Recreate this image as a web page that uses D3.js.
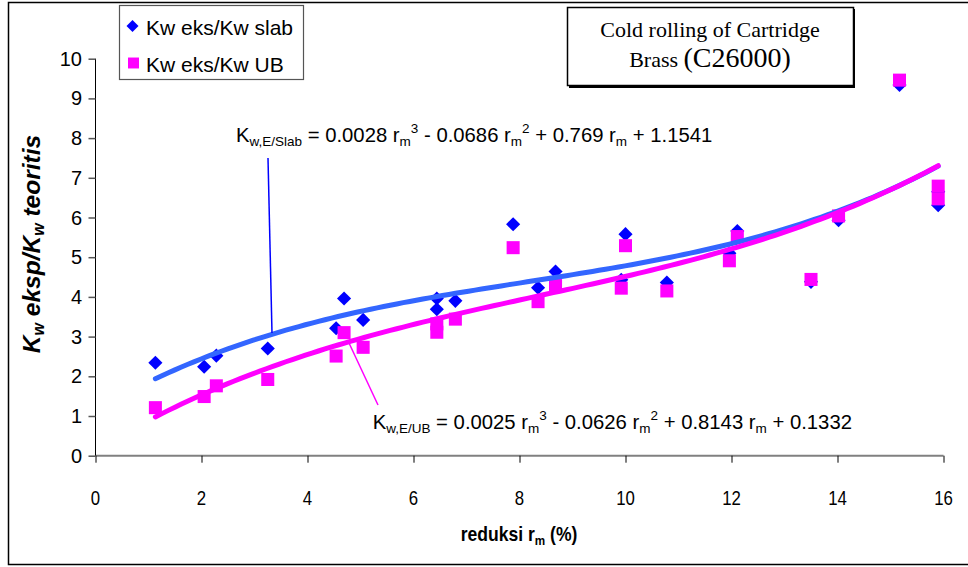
<!DOCTYPE html>
<html><head><meta charset="utf-8">
<script src="https://cdn.jsdelivr.net/npm/d3@7"></script>
<style>body{margin:0;background:#fff} svg{display:block}</style>
</head><body><svg id="c" width="968" height="567"></svg>
<script>
const reduction = [1.13,2.05,2.28,3.25,4.54,4.69,5.05,6.44,6.44,6.79,7.88,8.35,8.68,9.92,10.0,10.78,11.96,12.11,13.5,14.02,15.17,15.9,15.9];
const kwSlab    = [2.34,2.24,2.52,2.70,3.21,3.96,3.42,3.96,3.69,3.90,5.83,4.23,4.64,4.43,5.58,4.36,5.10,5.66,4.38,5.93,9.34,6.65,6.31];
const kwUB      = [1.21,1.49,1.76,1.92,2.51,3.10,2.73,3.32,3.11,3.44,5.24,3.88,4.30,4.22,5.29,4.15,4.91,5.52,4.44,6.04,9.46,6.79,6.47];
const slabCoef = [0.0028,-0.0686,0.769,1.1541];
const ubCoef   = [0.0025,-0.0626,0.8143,0.1332];
const xTicks = [0,2,4,6,8,10,12,14,16];
const yTicks = [0,1,2,3,4,5,6,7,8,9,10];
const seriesNames = ["Kw eks/Kw slab","Kw eks/Kw UB"];

const svg = d3.select("#c");
const F = "'Liberation Sans', Arial, sans-serif";
const x = d3.scaleLinear().domain([0,16]).range([95.5,943.5]);
const y = d3.scaleLinear().domain([0,10]).range([455.7,58.7]);

// outer frame
svg.append("rect").attr("x",8.5).attr("y",2.5).attr("width",975).attr("height",562)
  .attr("fill","none").attr("stroke","#000").attr("stroke-width",1.5);

// axes
const xAxis = svg.append("g").attr("transform",`translate(0,${y(0)})`)
  .call(d3.axisBottom(x).tickValues(xTicks).tickSize(7).tickFormat(""));
xAxis.select(".domain").attr("stroke","#808080").attr("stroke-width",2).attr("d",`M${x(0)},0H${x(16)}`);
xAxis.selectAll(".tick line").attr("stroke","#000").attr("stroke-width",1);
const yAxis = svg.append("g").attr("transform",`translate(${x(0)},0)`)
  .call(d3.axisLeft(y).tickValues(yTicks).tickSize(7).tickFormat(""));
yAxis.select(".domain").attr("stroke","#000").attr("stroke-width",1).attr("d",`M0,${y(0)}V${y(10)}`);
yAxis.selectAll(".tick line").attr("stroke","#555").attr("stroke-width",1.5);

// tick labels
svg.append("g").selectAll("text").data(xTicks).join("text")
  .attr("transform",d=>`translate(${x(d)},505) scale(0.8,1)`)
  .attr("text-anchor","middle").attr("font-family",F).attr("font-size",21).text(d=>d);
svg.append("g").selectAll("text").data(yTicks).join("text")
  .attr("x",82).attr("y",d=>y(d)+7).attr("text-anchor","end")
  .attr("font-family",F).attr("font-size",20).text(d=>d);

// axis titles
const xt = svg.append("text").attr("transform","translate(519,541) scale(0.9,1)")
  .attr("text-anchor","middle").attr("font-family",F).attr("font-size",19.5).attr("font-weight","bold");
xt.append("tspan").text("reduksi r");
xt.append("tspan").attr("font-size",13).attr("dy",4).text("m");
xt.append("tspan").attr("dy",-4).text(" (%)");

const yt = svg.append("text").attr("transform","translate(40,244) rotate(-90)")
  .attr("text-anchor","middle").attr("font-family",F).attr("font-size",24.5)
  .attr("font-weight","bold").attr("font-style","italic");
yt.append("tspan").text("K");
yt.append("tspan").attr("font-size",16).attr("dy",4).text("w");
yt.append("tspan").attr("dy",-4).text(" eksp/K");
yt.append("tspan").attr("font-size",16).attr("dy",4).text("w");
yt.append("tspan").attr("dy",-4).text(" teoritis");

// markers
const diamond = d3.symbol().type(d3.symbolSquare).size(100);
const square = d3.symbol().type(d3.symbolSquare).size(170);
const pts = reduction.map((r,i)=>({r, s:kwSlab[i], u:kwUB[i]}));
svg.append("g").selectAll("path").data(pts).join("path")
  .attr("d",diamond).attr("fill","#0000ff")
  .attr("transform",d=>`translate(${x(d.r)},${y(d.s)}) rotate(45)`);
svg.append("g").selectAll("path").data(pts).join("path")
  .attr("d",square).attr("fill","#ff00ff")
  .attr("transform",d=>`translate(${x(d.r)},${y(d.u)})`);

// trendlines
const poly = (c,t)=>((c[0]*t + c[1])*t + c[2])*t + c[3];
const xmin = d3.min(reduction), xmax = d3.max(reduction);
const xs = d3.range(xmin, xmax+1e-9, (xmax-xmin)/120);
const line = d3.line().x(d=>x(d[0])).y(d=>y(d[1]));
svg.append("path").attr("d",line(xs.map(t=>[t,poly(slabCoef,t)])))
  .attr("fill","none").attr("stroke","#3366ff").attr("stroke-width",5).attr("stroke-linecap","round");
svg.append("path").attr("d",line(xs.map(t=>[t,poly(ubCoef,t)])))
  .attr("fill","none").attr("stroke","#ff00ff").attr("stroke-width",5).attr("stroke-linecap","round");

// equation leaders
svg.append("line").attr("x1",268).attr("y1",158).attr("x2",272).attr("y2",333)
  .attr("stroke","#0000ff").attr("stroke-width",1.5);
svg.append("line").attr("x1",349).attr("y1",343).attr("x2",378).attr("y2",405)
  .attr("stroke","#ff00ff").attr("stroke-width",1.5);

function equation(xp, yp, sub, c){
  const t = svg.append("text").attr("x",xp).attr("y",yp).attr("font-family",F).attr("font-size",20.3);
  const s = 13.5;
  t.append("tspan").text("K");
  t.append("tspan").attr("font-size",s).attr("dy",4).text(sub);
  t.append("tspan").attr("dy",-4).text(` = ${c[0].toFixed(4)} r`);
  t.append("tspan").attr("font-size",s).attr("dy",4).text("m");
  t.append("tspan").attr("font-size",s).attr("dy",-13).text("3");
  t.append("tspan").attr("dy",9).text(` - ${Math.abs(c[1]).toFixed(4)} r`);
  t.append("tspan").attr("font-size",s).attr("dy",4).text("m");
  t.append("tspan").attr("font-size",s).attr("dy",-13).text("2");
  t.append("tspan").attr("dy",9).text(` + ${c[2]} r`);
  t.append("tspan").attr("font-size",s).attr("dy",4).text("m");
  t.append("tspan").attr("dy",-4).text(` + ${c[3].toFixed(4)}`);
}
equation(236,142,"w,E/Slab",slabCoef);
equation(372.7,428.5,"w,E/UB",ubCoef);

// legend
svg.append("rect").attr("x",119.5).attr("y",5.5).attr("width",184).attr("height",74)
  .attr("fill","#fff").attr("stroke","#555").attr("stroke-width",1.2);
svg.append("path").attr("d",d3.symbol().type(d3.symbolSquare).size(72))
  .attr("transform","translate(132.5,26) rotate(45)").attr("fill","#0000ff");
svg.append("path").attr("d",d3.symbol().type(d3.symbolSquare).size(120))
  .attr("transform","translate(133.5,63)").attr("fill","#ff00ff");
svg.append("g").selectAll("text").data(seriesNames).join("text")
  .attr("x",146).attr("y",(d,i)=>34.5+i*37.5).attr("font-family",F).attr("font-size",21).text(d=>d);

// title box
svg.append("rect").attr("x",569).attr("y",9).attr("width",286).attr("height",79).attr("fill","#000");
svg.append("rect").attr("x",567.5).attr("y",7.5).attr("width",286).attr("height",78)
  .attr("fill","#fff").attr("stroke","#000").attr("stroke-width",1.5);
const TF = "'Liberation Serif', 'Times New Roman', serif";
svg.append("text").attr("x",710).attr("y",37).attr("text-anchor","middle")
  .attr("font-family",TF).attr("font-size",22).text("Cold rolling of Cartridge");
const t2 = svg.append("text").attr("x",710).attr("y",67).attr("text-anchor","middle").attr("font-family",TF);
t2.append("tspan").attr("font-size",22).text("Brass ");
t2.append("tspan").attr("font-size",28).text("(C26000)");
</script></body></html>
